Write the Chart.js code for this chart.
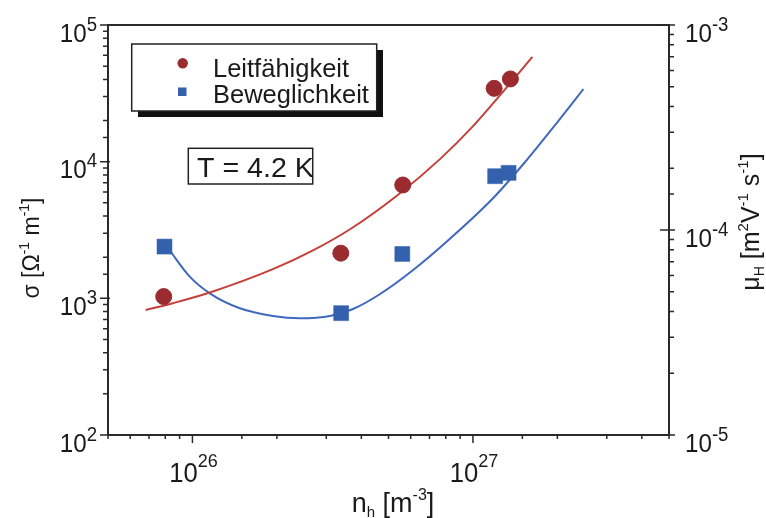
<!DOCTYPE html>
<html><head><meta charset="utf-8">
<script src="https://cdn.jsdelivr.net/npm/chart.js@4/dist/chart.umd.min.js"></script>
<style>html,body{margin:0;padding:0;background:#fff;}canvas{display:block;}</style>
</head><body>
<canvas id="c" width="766" height="518"></canvas>
<script>
// ---- data ----
const seriesNames = ['Leitfähigkeit', 'Beweglichkeit'];
const sigmaN   = [7.9e25, 3.38e26, 5.62e26, 1.19e27, 1.36e27];
const sigmaVal = [1030, 2140, 6750, 34400, 40300];
const muN      = [7.95e25, 3.39e26, 5.6e26, 1.2e27, 1.34e27];
const muVal    = [8.3e-5, 3.93e-5, 7.64e-5, 1.83e-4, 1.9e-4];
const sigmaFitN   = [6.81e25, 8.51e25, 1.153e26, 1.936e26, 2.69e26, 3.647e26, 5.368e26, 7.645e26, 1.003e27, 1.252e27, 1.629e27];
const sigmaFitVal = [821, 921, 1103, 1634, 2243, 3201, 5656, 10480, 18270, 30800, 58420];
const muFitN   = [8.23e25, 9.78e25, 1.153e26, 1.476e26, 1.936e26, 2.417e26, 3.094e26, 3.737e26, 4.667e26, 6.121e26, 8.30e26, 1.172e27, 1.513e27, 2.001e27, 2.477e27];
const muFitVal = [8.08e-5, 5.92e-5, 4.91e-5, 4.15e-5, 3.806e-5, 3.709e-5, 3.806e-5, 4.117e-5, 4.873e-5, 6.38e-5, 9.09e-5, 1.416e-4, 2.099e-4, 3.363e-4, 4.873e-4];
const xTickExp = [26, 27];
const sigmaTickExp = [2, 3, 4, 5];
const muTickExp = [-5, -4, -3];
const annotationText = 'T = 4.2 K';

const RED_PT = '#9a2b2f', RED_LN = '#c4403a', BLUE_PT = '#3461ad', BLUE_LN = '#4068bf';
const AXIS = '#2a2a2a';
const FONT = "'Liberation Sans', Arial, Helvetica, sans-serif";

function toXY(xs, ys) { return xs.map((x, i) => ({ x: x, y: ys[i] })); }
function setFont(ctx, s) { ctx.font = s + 'px ' + FONT; }
function partsWidth(ctx, parts) {
  let w = 0;
  for (const p of parts) { setFont(ctx, p.size); w += ctx.measureText(p.text).width * (p.hs || 1); }
  return w;
}
function drawParts(ctx, parts, x, y) {
  let cx = x;
  for (const p of parts) {
    setFont(ctx, p.size);
    const w = ctx.measureText(p.text).width * (p.hs || 1);
    ctx.save(); ctx.translate(cx, y + (p.dy || 0)); ctx.scale(p.hs || 1, 1);
    ctx.fillText(p.text, 0, 0); ctx.restore();
    cx += w;
  }
}
function isMajor(v) { const l = Math.log10(v); return Math.abs(l - Math.round(l)) < 1e-6; }
function tickValues(scale) {
  return (scale.ticks || []).map(t => t.value).filter(v => v >= scale.min * 0.9999 && v <= scale.max * 1.0001);
}
function powLabel(e, big, small, hs, dy) {
  return [{ text: '10', size: big, hs: hs }, { text: String(e), size: small, hs: hs, dy: dy }];
}

const decor = {
  id: 'decor',
  afterDraw(chart) {
    const ctx = chart.ctx, a = chart.chartArea;
    const sx = chart.scales.x, sy = chart.scales.y, sy2 = chart.scales.y2;
    ctx.save();
    ctx.fillStyle = AXIS; ctx.strokeStyle = AXIS; ctx.textBaseline = 'alphabetic';
    // frame
    ctx.lineWidth = 2;
    ctx.beginPath();
    ctx.moveTo(a.left, a.top); ctx.lineTo(a.right, a.top); ctx.lineTo(a.right, a.bottom);
    ctx.lineTo(a.left, a.bottom); ctx.closePath(); ctx.stroke();
    // ticks
    ctx.lineWidth = 1.5;
    ctx.beginPath();
    for (const v of tickValues(sx)) {
      const p = sx.getPixelForValue(v);
      ctx.moveTo(p, a.bottom); ctx.lineTo(p, a.bottom + (isMajor(v) ? 8 : 4));
    }
    for (const v of tickValues(sy)) {
      const p = sy.getPixelForValue(v);
      if (isMajor(v)) { ctx.moveTo(a.left + 2, p); ctx.lineTo(a.left - 8, p); }
      else { ctx.moveTo(a.left, p); ctx.lineTo(a.left - 5, p); }
    }
    for (const v of tickValues(sy2)) {
      const p = sy2.getPixelForValue(v);
      if (isMajor(v)) { ctx.moveTo(a.right - 9, p); ctx.lineTo(a.right + 6, p); }
      else { ctx.moveTo(a.right, p); ctx.lineTo(a.right + 5, p); }
    }
    ctx.stroke();
    // tick labels
    ctx.fillStyle = '#1a1a1a';
    for (const e of sigmaTickExp) {
      const p = sy.getPixelForValue(Math.pow(10, e));
      const parts = powLabel(e, 26, 20, 0.93, -11);
      drawParts(ctx, parts, 97 - partsWidth(ctx, parts), p + 16.5);
    }
    for (const e of muTickExp) {
      const p = sy2.getPixelForValue(Math.pow(10, e));
      drawParts(ctx, powLabel(e, 26, 20, 0.93, -11), a.right + 16, p + 16.5);
    }
    for (const e of xTickExp) {
      const p = sx.getPixelForValue(Math.pow(10, e));
      const parts = powLabel(e, 27, 19, 0.95, -15);
      drawParts(ctx, parts, p - partsWidth(ctx, parts) / 2 + 1, 481.5);
    }
    // axis titles
    drawParts(ctx, [{ text: 'n', size: 27 }, { text: 'h', size: 15, dy: 5 }, { text: ' [m', size: 27 }, { text: '-3', size: 16, dy: -12 }, { text: ']', size: 27 }], 351.7, 512);
    let parts = [{ text: 'σ', size: 23 }, { text: ' [Ω', size: 23 }, { text: '-1', size: 14, dy: -10 }, { text: ' m', size: 23 }, { text: '-1', size: 14, dy: -10 }, { text: ']', size: 23 }];
    ctx.save(); ctx.translate(39, 248); ctx.rotate(-Math.PI / 2);
    drawParts(ctx, parts, -partsWidth(ctx, parts) / 2, 0); ctx.restore();
    parts = [{ text: 'μ', size: 25 }, { text: 'H', size: 14, dy: 5 }, { text: ' [m', size: 25 }, { text: '2', size: 15, dy: -11 }, { text: 'V', size: 25 }, { text: '-1', size: 15, dy: -11 }, { text: ' s', size: 25 }, { text: '-1', size: 15, dy: -11 }, { text: ']', size: 25 }];
    ctx.save(); ctx.translate(759, 222); ctx.rotate(-Math.PI / 2);
    drawParts(ctx, parts, -partsWidth(ctx, parts) / 2, 0); ctx.restore();
    // legend box with shadow
    ctx.fillStyle = '#111';
    ctx.fillRect(138, 50, 245, 67);
    ctx.fillStyle = '#fff'; ctx.fillRect(131.7, 44, 245, 67);
    ctx.strokeStyle = '#222'; ctx.lineWidth = 1.5; ctx.strokeRect(131.7, 44, 245, 67);
    ctx.fillStyle = RED_PT; ctx.beginPath(); ctx.arc(182.7, 63.3, 5.2, 0, Math.PI * 2); ctx.fill();
    ctx.fillStyle = BLUE_PT; ctx.fillRect(178, 87.5, 8.5, 8.5);
    ctx.fillStyle = '#1a1a1a';
    drawParts(ctx, [{ text: chart.data.datasets[0].label, size: 25, hs: 1.02 }], 213, 76.7);
    drawParts(ctx, [{ text: chart.data.datasets[1].label, size: 25, hs: 1.02 }], 213, 102.7);
    // temperature box
    ctx.strokeStyle = '#222'; ctx.lineWidth = 1.5; ctx.strokeRect(188.3, 148.3, 124.4, 35.7);
    ctx.fillStyle = '#1a1a1a';
    drawParts(ctx, [{ text: annotationText, size: 27, hs: 1.06 }], 197, 176.7);
    ctx.restore();
  }
};

const axisCommon = { display: true, ticks: { display: false }, grid: { display: false, drawTicks: false }, border: { display: false } };

new Chart(document.getElementById('c'), {
  type: 'scatter',
  data: {
    datasets: [
      { label: seriesNames[0], data: toXY(sigmaN, sigmaVal), yAxisID: 'y', pointStyle: 'circle', pointRadius: 8, pointBackgroundColor: RED_PT, pointBorderColor: RED_PT, pointBorderWidth: 1, showLine: false },
      { label: seriesNames[1], data: toXY(muN, muVal), yAxisID: 'y2', pointStyle: 'rect', pointRadius: 10.6, pointBackgroundColor: BLUE_PT, pointBorderColor: BLUE_PT, pointBorderWidth: 0.5, showLine: false },
      { label: 'fit σ', data: toXY(sigmaFitN, sigmaFitVal), yAxisID: 'y', showLine: true, pointRadius: 0, borderColor: RED_LN, borderWidth: 2, cubicInterpolationMode: 'monotone', fill: false },
      { label: 'fit μ', data: toXY(muFitN, muFitVal), yAxisID: 'y2', showLine: true, pointRadius: 0, borderColor: BLUE_LN, borderWidth: 2, cubicInterpolationMode: 'monotone', fill: false }
    ]
  },
  options: {
    responsive: false, animation: false, devicePixelRatio: 1,
    layout: { padding: { left: 108, top: 25, right: 97, bottom: 83 } },
    plugins: { legend: { display: false }, tooltip: { enabled: false } },
    scales: {
      x: Object.assign({ type: 'logarithmic', position: 'bottom', min: 5e25, max: 5e27 }, axisCommon),
      y: Object.assign({ type: 'logarithmic', position: 'left', min: 100, max: 1e5 }, axisCommon),
      y2: Object.assign({ type: 'logarithmic', position: 'right', min: 1e-5, max: 1e-3 }, axisCommon)
    }
  },
  plugins: [decor]
});
</script>
</body></html>
